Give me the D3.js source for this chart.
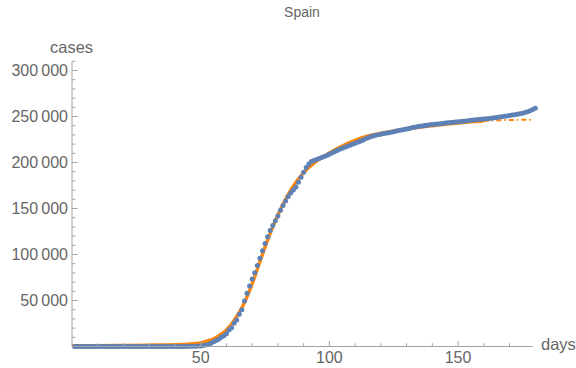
<!DOCTYPE html>
<html><head><meta charset="utf-8">
<script src="https://cdn.jsdelivr.net/npm/d3@7"></script>
<style>
body{margin:0;background:#fff}
text{font-family:"Liberation Sans",Arial,sans-serif;fill:#666}
</style>
</head><body>
<svg id="c" width="576" height="368"></svg>
<script>
const title = "Spain";
const xLabel = "days";
const yLabel = "cases";
const xTicks = [50, 100, 150];
const yTicks = [50000, 100000, 150000, 200000, 250000, 300000];
const firstDay = 1;
// daily cumulative cases, day 1 .. 180
const caseValues = [
  0,0,0,0,0,0,0,0,0,0,
  0,0,0,1,1,1,1,1,1,1,
  1,2,2,2,2,2,2,2,2,2,
  2,2,2,2,2,2,2,6,13,15,
  32,45,84,120,165,222,259,400,500,673,
  1073,1695,2277,3500,5232,6391,7798,9942,11748,13910,
  17963,20410,25374,28768,35136,39885,49515,57786,65719,73235,
  80110,87956,95923,104118,112065,119199,126168,131646,136675,141942,
  148220,153222,158273,163027,166831,170099,173500,178500,184000,189500,
  194500,198500,201000,202300,203300,204300,205300,206400,207600,209000,
  210400,211800,213100,214300,215500,216600,217700,218800,219900,221000,
  222100,223200,224300,225800,227000,228000,228800,229500,230200,230800,
  231400,231900,232400,232900,233500,234200,234800,235300,235800,236300,
  237000,237700,238300,238800,239300,239700,240100,240500,240900,241300,
  241600,241900,242200,242500,242800,243100,243400,243700,244000,244300,
  244600,244900,245200,245500,245800,246100,246400,246700,247000,247300,
  247600,247900,248200,248600,249000,249400,249800,250200,250600,251000,
  251500,252000,252500,253000,253600,254300,255200,256300,257600,259000
];
// fitted curve
const fitDays = [0,10,20,30,40,45,50,53,55,58,60,62,65,67,68,70,72,73,75,78,80,83,85,88,90,93,95,98,100,105,110,115,120,125,130,135,140,145,150,155,160,165,170,175,179];
const fitValues = [800,1000,1200,1500,2000,2600,4000,6500,8500,13500,18000,24500,37000,47500,54000,68000,84000,92000,108000,130000,143000,160000,170000,182000,189000,197000,201500,207000,210500,218000,224000,228800,231800,234200,236400,238300,240000,241600,242900,244100,245200,245900,246200,246400,246500];
const fitSolidEnd = 160;

const svg = d3.select("#c");
svg.append("rect").attr("width",576).attr("height",368).attr("fill","#fff");

const x = d3.scaleLinear().domain([0, 179]).range([72, 532.7]);
const y = d3.scaleLinear().domain([0, 310000]).range([346.5, 61.3]);
const axisColor = "#a3a3a3";

// orange fit
const fitPts = fitDays.map((d,i)=>({d, v: fitValues[i]}));
const line = d3.line().x(p=>x(p.d)).y(p=>y(p.v)).curve(d3.curveMonotoneX);
svg.append("path").attr("d", line(fitPts.filter(p=>p.d<=fitSolidEnd)))
  .attr("fill","none").attr("stroke","#ff850a").attr("stroke-width",3.4);
svg.append("path").attr("d", line(fitPts.filter(p=>p.d>=fitSolidEnd)))
  .attr("fill","none").attr("stroke","#ff850a").attr("stroke-width",2)
  .attr("stroke-dasharray","5,3,1.5,3");

// blue data points
svg.append("g").selectAll("circle").data(caseValues).join("circle")
  .attr("cx",(v,i)=>x(i+firstDay)).attr("cy",v=>y(v)).attr("r",2.5)
  .attr("fill","#5e81b5");

// axes
const ax = svg.append("g").attr("stroke",axisColor).attr("stroke-width",1);
ax.append("line").attr("x1",x(0)).attr("x2",x(179)).attr("y1",y(0)).attr("y2",y(0));
ax.append("line").attr("x1",x(0)).attr("x2",x(0)).attr("y1",y(0)).attr("y2",y(310000));
d3.range(10,180,10).forEach(d=>{
  const major = xTicks.includes(d);
  ax.append("line").attr("x1",x(d)).attr("x2",x(d)).attr("y1",y(0)).attr("y2",y(0)-(major?5.5:3.3));
});
d3.range(10000,310001,10000).forEach(v=>{
  const major = yTicks.includes(v);
  ax.append("line").attr("x1",x(0)).attr("x2",x(0)+(major?5.5:3.3)).attr("y1",y(v)).attr("y2",y(v));
});

const fmt = v => d3.format(",")(v).replace(",", "\u2009");
svg.append("g").selectAll("text").data(yTicks).join("text")
  .attr("x", x(0)-4).attr("y", v=>y(v)).attr("dy","0.35em")
  .attr("text-anchor","end").attr("font-size",16).text(fmt);
svg.append("g").selectAll("text").data(xTicks).join("text")
  .attr("x", d=>x(d)).attr("y", 363.3)
  .attr("text-anchor","middle").attr("font-size",16).text(d=>d);

svg.append("text").attr("x",50).attr("y",53).attr("font-size",16.5).text(yLabel);
svg.append("text").attr("x",541).attr("y",349.5).attr("font-size",16.5).text(xLabel);
svg.append("text").attr("x",302).attr("y",16.5).attr("text-anchor","middle").attr("font-size",14).text(title);
</script>
</body></html>
